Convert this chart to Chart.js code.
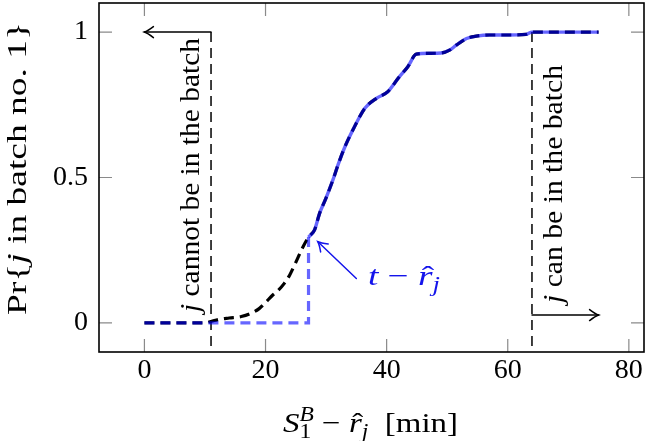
<!DOCTYPE html>
<html>
<head>
<meta charset="utf-8">
<script src="https://cdn.jsdelivr.net/npm/chart.js@4"></script>
<style>
  body { margin: 0; background: #fff; }
  #wrap { width: 646px; height: 441px; }
</style>
</head>
<body>
<div id="wrap"><canvas id="batchChart" width="646" height="441"></canvas></div>
<script>
// empirical probability that j lands in batch no. 1
const curveX = [0, 10, 11, 12.5, 14, 16, 17.5, 19, 20, 21.2, 22, 23.1, 24, 24.8, 26.2, 27.1, 28.1, 28.9, 30, 31.1,
  32, 33.1, 34.7, 36.4, 38.3, 40.2, 41.9, 43.5, 44.9, 47.1, 49, 50.4, 51.5, 53.2, 54.8, 57, 60, 63, 64, 75];
const curveY = [0, 0, 0.005, 0.013, 0.017, 0.022, 0.032, 0.05, 0.07, 0.096, 0.11, 0.136, 0.165, 0.199, 0.262, 0.295, 0.32, 0.375, 0.43, 0.49,
  0.545, 0.605, 0.675, 0.738, 0.772, 0.795, 0.841, 0.881, 0.924, 0.927, 0.928, 0.938, 0.955, 0.978, 0.986, 0.99, 0.99, 0.992, 1, 1];

// t - r_j : blue step, then blue follows the curve
const tShift = 27.1;
const stepX = [0, 27.1, 27.1];
const stepY = [0, 0, 0.295];

// batch window limits (dashed verticals)
const lowLimitX = [11, 11];
const highLimitX = [64, 64];
const limitY = [1, -0.1];

// arrows, in data units
const leftArrowX = [11, 0];
const leftArrowY = [1, 1];
const rightArrowX = [64, 75];
const rightArrowY = [0.027, 0.027];
const tagArrowX = [35, 28.65];
const tagArrowY = [0.153, 0.279];

const xTicks = [0, 20, 40, 60, 80];
const yTicks = [0, 0.5, 1];

const SERIF = "'Liberation Serif', 'Times New Roman', Tinos, serif";
const rm = s => s + 'px ' + SERIF;
const it = s => 'italic ' + s + 'px ' + SERIF;
const BLUE = 'rgb(20,20,235)';

const pts = (xs, ys) => xs.map((x, i) => ({ x: x, y: ys[i] }));
const curve = pts(curveX, curveY);
const blueCurve = curve.filter(p => p.x >= tShift);

// draw a run of text pieces (italic / sub / sup), stretched to a width
function drawRich(ctx, parts, cx, cy, rot, width, color) {
  ctx.save();
  let x = 0, prevX = 0, prevW = 0;
  const laid = [];
  for (const p of parts) {
    ctx.font = p.font;
    const w = ctx.measureText(p.t).width;
    if (p.over) { laid.push({ p: p, x: prevX + (prevW - w) / 2 + (p.dx || 0) }); continue; }
    if (p.stack) { laid.push({ p: p, x: prevX }); x = prevX + Math.max(prevW, w); continue; }
    laid.push({ p: p, x: x }); prevX = x; prevW = w; x += w;
  }
  ctx.translate(cx, cy);
  ctx.rotate(rot);
  ctx.scale(width / x, 1);
  ctx.fillStyle = color;
  ctx.textBaseline = 'alphabetic';
  ctx.textAlign = 'left';
  for (const l of laid) {
    ctx.font = l.p.font;
    ctx.fillText(l.p.t, l.x - x / 2, l.p.dy || 0);
  }
  ctx.restore();
}

function drawArrow(ctx, x1, y1, x2, y2, color, lw) {
  ctx.save();
  ctx.strokeStyle = color;
  ctx.lineWidth = lw;
  ctx.setLineDash([]);
  ctx.lineCap = 'round';
  ctx.beginPath();
  ctx.moveTo(x1, y1);
  ctx.lineTo(x2, y2);
  ctx.stroke();
  const a = Math.atan2(y2 - y1, x2 - x1);
  ctx.translate(x2, y2);
  ctx.rotate(a);
  ctx.beginPath();
  ctx.moveTo(-9, -5.5);
  ctx.quadraticCurveTo(-3, -1, 0, 0);
  ctx.quadraticCurveTo(-3, 1, -9, 5.5);
  ctx.stroke();
  ctx.restore();
}

const decorPlugin = {
  id: 'decor',
  afterDatasetsDraw(chart) {
    const ctx = chart.ctx;
    const sx = chart.scales.x, sy = chart.scales.y;
    const X = v => sx.getPixelForValue(v), Y = v => sy.getPixelForValue(v);

    drawArrow(ctx, X(leftArrowX[0]), Y(leftArrowY[0]), X(leftArrowX[1]), Y(leftArrowY[1]), '#000', 1.5);
    drawArrow(ctx, X(rightArrowX[0]), Y(rightArrowY[0]), X(rightArrowX[1]), Y(rightArrowY[1]), '#000', 1.5);
    drawArrow(ctx, X(tagArrowX[0]), Y(tagArrowY[0]), X(tagArrowX[1]), Y(tagArrowY[1]), BLUE, 1.5);

    // annotations
    drawRich(ctx, [
      { t: 'j', font: it(28) },
      { t: ' cannot be in the batch', font: rm(28) }
    ], 199, 175, -Math.PI / 2, 274, '#000');
    drawRich(ctx, [
      { t: 'j', font: it(28) },
      { t: ' can be in the batch', font: rm(28) }
    ], 562, 184, -Math.PI / 2, 238, '#000');
    drawRich(ctx, [
      { t: 't', font: it(28) },
      { t: ' \u2212 ', font: rm(28) },
      { t: 'r', font: it(28) },
      { t: '\u02C6', font: rm(28), over: true, dx: 2 },
      { t: 'j', font: it(20), dy: 6 }
    ], 404, 285, 0, 72, BLUE);
  },
  afterDraw(chart) {
    const ctx = chart.ctx;
    const a = chart.chartArea;
    const sx = chart.scales.x, sy = chart.scales.y;
    ctx.save();
    // inward tick marks on all sides
    ctx.strokeStyle = '#8a8a8a';
    ctx.lineWidth = 1.2;
    ctx.beginPath();
    xTicks.forEach(v => {
      const p = sx.getPixelForValue(v);
      ctx.moveTo(p, a.bottom); ctx.lineTo(p, a.bottom - 13);
      ctx.moveTo(p, a.top); ctx.lineTo(p, a.top + 13);
    });
    yTicks.forEach(v => {
      const p = sy.getPixelForValue(v);
      ctx.moveTo(a.left, p); ctx.lineTo(a.left + 13, p);
      ctx.moveTo(a.right, p); ctx.lineTo(a.right - 13, p);
    });
    ctx.stroke();
    // frame
    ctx.strokeStyle = '#000';
    ctx.lineWidth = 1.6;
    ctx.strokeRect(a.left, a.top, a.right - a.left, a.bottom - a.top);
    ctx.restore();

    // axis titles
    drawRich(ctx, [
      { t: 'S', font: it(28) },
      { t: 'B', font: it(20), dy: -11 },
      { t: '1', font: rm(20), dy: 6, stack: true },
      { t: ' \u2212 ', font: rm(28) },
      { t: 'r', font: it(28) },
      { t: '\u02C6', font: rm(28), over: true, dx: 2 },
      { t: 'j', font: it(20), dy: 6 },
      { t: '  [min]', font: rm(28) }
    ], 370.5, 432, 0, 175, '#000');
    drawRich(ctx, [
      { t: 'Pr{', font: rm(28) },
      { t: 'j', font: it(28) },
      { t: ' in batch no. 1}', font: rm(28) }
    ], 26, 168.5, -Math.PI / 2, 293, '#000');
  }
};

const lineBase = { pointRadius: 0, fill: false, borderCapStyle: 'butt', tension: 0 };

function build() {
  new Chart(document.getElementById('batchChart'), {
    type: 'line',
    data: {
      datasets: [
        Object.assign({}, lineBase, { label: 'shifted step', data: pts(stepX, stepY), borderColor: 'rgba(0,0,255,0.6)', borderWidth: 3.2, borderDash: [10, 6], order: 1 }),
        Object.assign({}, lineBase, { label: 'shifted curve', data: blueCurve, borderColor: 'rgba(0,0,255,0.6)', borderWidth: 3.4, cubicInterpolationMode: 'monotone', order: 1 }),
        Object.assign({}, lineBase, { label: 'probability', data: curve, borderColor: '#000', borderWidth: 3.2, borderDash: [10, 6], cubicInterpolationMode: 'monotone', order: 2 }),
        Object.assign({}, lineBase, { label: 'low limit', data: pts(lowLimitX, limitY), borderColor: '#000', borderWidth: 1.5, borderDash: [10, 6], order: 3 }),
        Object.assign({}, lineBase, { label: 'high limit', data: pts(highLimitX, limitY), borderColor: '#000', borderWidth: 1.5, borderDash: [10, 6], order: 3 })
      ]
    },
    options: {
      responsive: false,
      animation: false,
      events: [],
      layout: { padding: { top: 3, right: 2, left: 0, bottom: 0 } },
      plugins: { legend: { display: false }, tooltip: { enabled: false } },
      scales: {
        x: {
          type: 'linear', min: -7.5, max: 82.5,
          grid: { display: false, drawTicks: false },
          border: { display: false },
          afterBuildTicks: s => { s.ticks = xTicks.map(v => ({ value: v })); },
          afterFit: s => { s.height = 89; s.paddingLeft = 0; s.paddingRight = 0; },
          ticks: { color: '#000', padding: 2, maxRotation: 0, font: { family: SERIF, size: 28 }, callback: v => String(v) }
        },
        y: {
          type: 'linear', min: -0.1, max: 1.1,
          grid: { display: false, drawTicks: false },
          border: { display: false },
          afterBuildTicks: s => { s.ticks = yTicks.map(v => ({ value: v })); },
          afterFit: s => { s.width = 99; s.paddingTop = 0; s.paddingBottom = 0; },
          ticks: { color: '#000', padding: 11, font: { family: SERIF, size: 28 }, callback: v => String(v) }
        }
      }
    },
    plugins: [decorPlugin]
  });
}

Promise.all([
  document.fonts.load(rm(28)),
  document.fonts.load(it(28))
]).then(build, build);
</script>
</body>
</html>
